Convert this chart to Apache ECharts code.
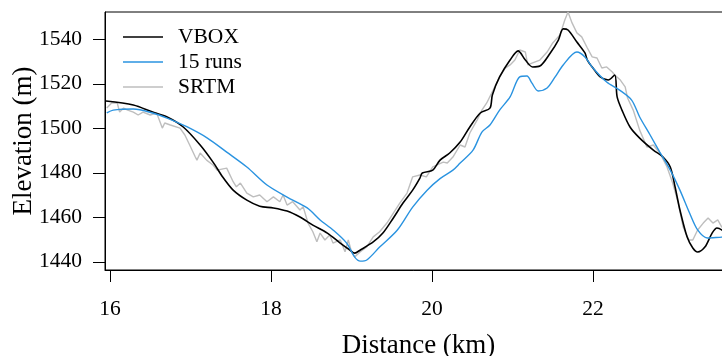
<!DOCTYPE html>
<html><head><meta charset="utf-8">
<script src="https://cdn.jsdelivr.net/npm/echarts@6/dist/echarts.min.js"></script>
<style>html,body{margin:0;padding:0;background:#fff}#c{width:722px;height:356px}</style>
</head><body><div id="c"></div>
<script>
// VBOX
const vboxKm = [15.95,16.29,16.53,16.71,16.91,17.12,17.28,17.40,17.53,17.70,17.86,18.03,18.20,18.36,18.52,18.70,18.86,18.98,19.04,19.11,19.27,19.39,19.52,19.64,19.76,19.85,19.88,20.01,20.10,20.22,20.35,20.47,20.60,20.72,20.75,20.84,20.97,21.07,21.16,21.25,21.34,21.47,21.57,21.63,21.69,21.80,21.90,21.93,22.00,22.09,22.19,22.27,22.30,22.36,22.46,22.58,22.75,22.87,22.96,23.02,23.08,23.17,23.24,23.30,23.39,23.48,23.54,23.60,23.72];
const vboxM = [1512.3,1510.5,1507.3,1505.1,1500.6,1492.5,1484.8,1478.1,1472.2,1467.7,1465.0,1464.2,1462.8,1460.1,1456.5,1452.9,1448.4,1445.3,1443.9,1445.3,1448.9,1452.9,1459.7,1466.4,1472.2,1477.6,1479.9,1481.2,1485.7,1488.9,1493.8,1500.6,1506.9,1509.1,1515.0,1523.1,1530.7,1534.8,1530.7,1527.6,1528.0,1533.9,1539.7,1544.7,1544.2,1538.8,1533.9,1530.7,1527.1,1523.1,1521.7,1524.0,1514.1,1508.2,1500.6,1495.6,1490.2,1487.1,1482.6,1473.6,1463.3,1451.1,1446.2,1444.4,1446.6,1452.9,1455.2,1454.3,1450.0];
// 15 runs
const runsKm = [15.96,16.04,16.29,16.53,16.71,16.96,17.21,17.45,17.70,17.95,18.20,18.45,18.61,18.77,18.94,19.04,19.11,19.19,19.35,19.57,19.76,19.94,20.10,20.26,20.35,20.51,20.62,20.72,20.84,20.97,21.09,21.18,21.24,21.32,21.43,21.53,21.63,21.80,21.90,22.00,22.17,22.33,22.48,22.58,22.71,22.83,22.96,23.08,23.20,23.30,23.42,23.60,23.72];
const runsM = [1506.9,1508.2,1508.7,1506.9,1504.6,1500.6,1495.6,1489.3,1482.6,1474.5,1469.1,1464.2,1458.8,1454.3,1448.4,1442.1,1440.3,1440.8,1446.6,1454.3,1464.6,1472.2,1477.4,1481.2,1484.4,1490.2,1498.3,1501.5,1508.2,1514.1,1523.1,1523.5,1520.4,1516.8,1518.1,1523.1,1528.5,1534.3,1532.1,1527.1,1520.8,1517.2,1512.7,1505.1,1497.0,1489.3,1481.2,1472.2,1461.9,1454.3,1450.7,1451.1,1451.2];
// SRTM
const srtmKm = [15.96,16.02,16.09,16.12,16.17,16.22,16.29,16.35,16.41,16.50,16.58,16.65,16.68,16.75,16.87,16.93,16.99,17.06,17.08,17.12,17.20,17.28,
  17.33,17.45,17.53,17.57,17.62,17.70,17.78,17.86,17.95,18.03,18.11,18.15,18.20,18.27,18.36,18.40,18.46,18.52,18.57,18.61,18.67,18.73,18.77,18.86,18.92,18.96,19.00,19.04,19.11,19.19,19.27,19.35,19.44,19.52,19.60,19.69,19.76,19.85,19.93,20.01,
  20.14,20.19,20.26,20.35,20.41,20.47,20.56,20.62,20.68,20.76,20.84,20.91,20.97,21.03,21.09,21.16,21.19,21.25,21.34,21.43,21.50,21.59,21.65,21.69,21.74,21.80,21.86,21.93,21.99,22.05,22.11,22.17,22.24,22.27,22.34,22.40,22.43,22.50,22.58,22.67,22.75,22.83,22.92,22.99,23.06,23.12,23.19,23.24,23.30,23.37,23.43,23.49,23.55,23.60,23.70];
const srtmM = [1509.1,1511.4,1511.4,1507.3,1509.1,1508.2,1507.3,1506.0,1507.3,1506.0,1506.9,1500.1,1502.4,1501.5,1500.1,1497.0,1492.5,1487.1,1485.7,1488.9,1485.7,1483.5,
  1481.2,1482.1,1476.0,1473.7,1475.4,1470.9,1469.2,1470.0,1467.0,1469.2,1467.0,1470.0,1465.5,1467.0,1463.3,1464.7,1457.4,1453.5,1449.0,1452.9,1449.8,1452.0,1448.4,1449.8,1444.5,1449.8,1444.5,1442.2,1444.5,1446.7,1451.2,1453.5,1457.4,1461.9,1466.4,1470.9,1478.2,1479.0,1478.2,1482.7,
  1484.8,1484.4,1487.1,1492.5,1491.6,1497.9,1503.7,1508.2,1511.4,1517.2,1523.1,1527.1,1528.5,1530.7,1535.2,1534.3,1528.5,1529.4,1530.7,1534.3,1538.4,1542.0,1548.7,1552.3,1547.4,1542.9,1541.1,1536.1,1532.1,1531.6,1527.1,1527.6,1525.3,1524.0,1521.7,1518.6,1513.6,1508.2,1499.2,1491.6,1492.5,1488.9,1482.6,1475.4,1466.4,1455.6,1449.8,1449.8,1454.3,1457.4,1459.7,1457.4,1458.8,1455.6,1456.0];
const xTicks = [16,18,20,22];
const yTicks = [1440,1460,1480,1500,1520,1540];
const seriesNames = ['VBOX','15 runs','SRTM'];

const zip = (a,b) => a.map((v,i)=>[v,b[i]]);
const font = 'Liberation Serif';
const chart = echarts.init(document.getElementById('c'), null, {renderer:'canvas'});
chart.setOption({
  animation:false,
  backgroundColor:'#fff',
  grid:{left:105,right:-10,top:12,bottom:86,show:true,borderColor:'#000',borderWidth:1,backgroundColor:'transparent',
        containLabel:false,outerBoundsMode:'none'},
  legend:{
    data:seriesNames, orient:'vertical', left:118, top:21, itemWidth:40, itemHeight:22, itemGap:3,
    textStyle:{fontFamily:font,fontSize:21.5,lineHeight:22,color:'#000',padding:[0,0,0,10]},
    icon:'path://M0,0 L40,0 L40,1.6 L0,1.6 Z'
  },
  xAxis:{
    type:'value', min:15.938, max:23.727,
    name:'Distance (km)', nameLocation:'middle', nameGap:62, nameMoveOverlap:false,
    nameTextStyle:{fontFamily:font,fontSize:27,color:'#000'},
    axisLine:{show:true,lineStyle:{color:'#000',width:1}},
    axisTick:{show:true,inside:false,length:12,lineStyle:{color:'#000'},customValues:xTicks},
    axisLabel:{fontFamily:font,fontSize:21.5,color:'#000',margin:28,customValues:xTicks,formatter:v=>String(v)},
    splitLine:{show:false}
  },
  yAxis:{
    type:'value', min:1436.3, max:1552.3,
    name:'Elevation (m)', nameLocation:'middle', nameGap:68, nameMoveOverlap:false,
    nameTextStyle:{fontFamily:font,fontSize:27,color:'#000'},
    axisLine:{show:true,lineStyle:{color:'#000',width:1}},
    axisTick:{show:true,inside:false,length:12,lineStyle:{color:'#000'},customValues:yTicks},
    axisLabel:{fontFamily:font,fontSize:21.5,color:'#000',margin:23,customValues:yTicks,formatter:v=>String(v)},
    splitLine:{show:false}
  },
  series:[
    {name:'SRTM',type:'line',data:zip(srtmKm,srtmM),showSymbol:false,symbol:'none',z:2,
     lineStyle:{color:'#bebebe',width:1.4},itemStyle:{color:'#bebebe'}},
    {name:'VBOX',type:'line',data:zip(vboxKm,vboxM),showSymbol:false,symbol:'none',smooth:0.3,z:3,
     lineStyle:{color:'#000',width:1.6},itemStyle:{color:'#000'}},
    {name:'15 runs',type:'line',data:zip(runsKm,runsM),showSymbol:false,symbol:'none',smooth:0.3,z:4,
     lineStyle:{color:'#2a93e0',width:1.4},itemStyle:{color:'#2a93e0'}}
  ]
});
</script></body></html>
